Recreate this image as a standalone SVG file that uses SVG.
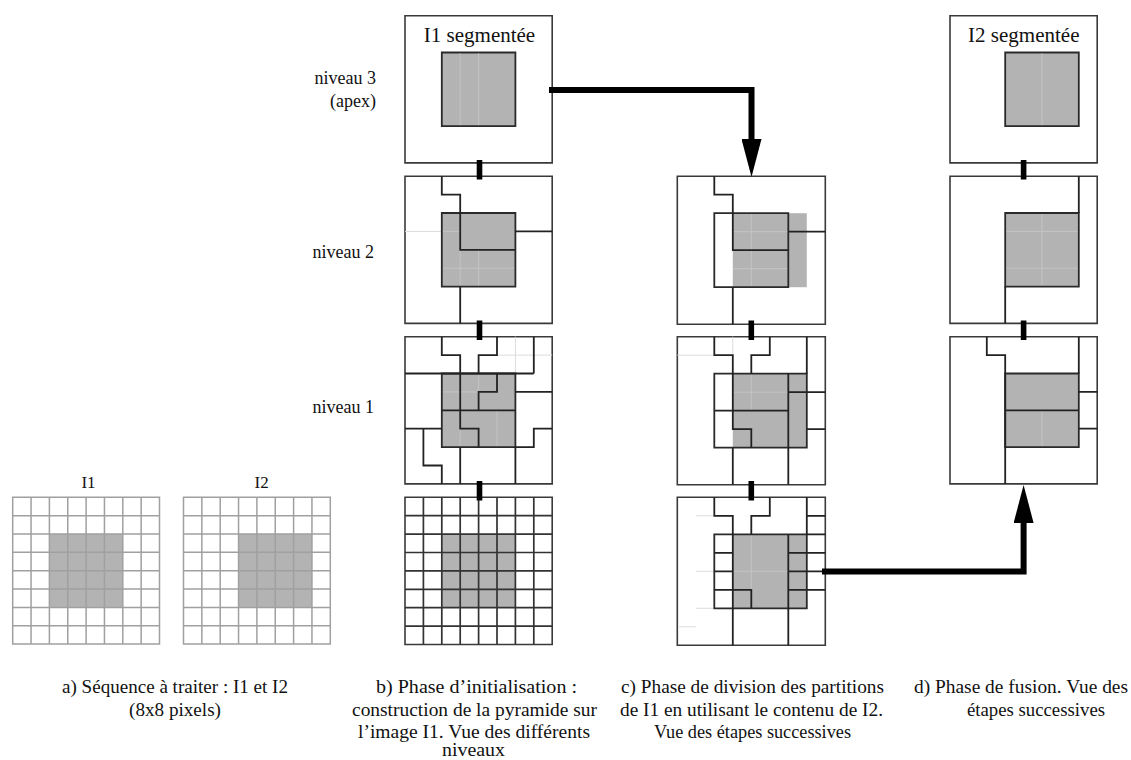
<svg xmlns="http://www.w3.org/2000/svg" width="1131" height="760" viewBox="0 0 1131 760">
<defs>
<style>
path, rect { vector-effect: non-scaling-stroke; }
.box { fill:#fff; stroke:#3a3a3a; stroke-width:1.6; }
.gray { fill:#b3b3b3; stroke:none; }
.gedge { fill:#b3b3b3; stroke:#2a2a2a; stroke-width:1.8; }
.frame { fill:none; stroke:#2a2a2a; stroke-width:1.8; }
.edge { fill:none; stroke:#222; stroke-width:1.8; }
.faint { fill:none; stroke:#dcdcdc; stroke-width:1; }
.faintg { fill:none; stroke:#c4c4c4; stroke-width:1; }
.grid { fill:none; stroke:#a0a0a0; stroke-width:1.5; }
.gridbox { fill:#fff; stroke:#a0a0a0; stroke-width:1.5; }
.grid0 { fill:none; stroke:#333; stroke-width:1.7; }
.bar { fill:#000; }
.conn { fill:none; stroke:#000; stroke-width:6; }
.t { font-family:"Liberation Serif","Times New Roman",serif; fill:#111; }
.lbl { font-size:18px; text-anchor:end; }
.ttl { font-size:21px; text-anchor:middle; }
.cap { font-size:18px; text-anchor:middle; }
</style>
<marker id="ah" viewBox="0 0 38 20" refX="0" refY="10" markerWidth="38" markerHeight="20" markerUnits="userSpaceOnUse" orient="auto">
<path d="M0,0 L38,10 L0,20 Z" fill="#000"/>
</marker>
</defs>

<!-- column a -->
<g id="a-I1" transform="translate(12.7,497.3) scale(18.35)">
<rect class="gridbox" x="0" y="0" width="8" height="8"/>
<rect class="gray" x="2" y="2" width="4" height="4"/>
<path class="grid" d="M1,0V8M2,0V8M3,0V8M4,0V8M5,0V8M6,0V8M7,0V8M0,1H8M0,2H8M0,3H8M0,4H8M0,5H8M0,6H8M0,7H8"/>
</g>
<g id="a-I2" transform="translate(183.5,497.3) scale(18.35)">
<rect class="gridbox" x="0" y="0" width="8" height="8"/>
<rect class="gray" x="3" y="2" width="4" height="4"/>
<path class="grid" d="M1,0V8M2,0V8M3,0V8M4,0V8M5,0V8M6,0V8M7,0V8M0,1H8M0,2H8M0,3H8M0,4H8M0,5H8M0,6H8M0,7H8"/>
</g>
<text class="t" x="88.5" y="487.5" font-size="17" text-anchor="middle">I1</text>
<text class="t" x="261.7" y="487.5" font-size="17" text-anchor="middle">I2</text>

<!-- column b -->
<g id="b-n3" transform="translate(405,15.7) scale(18.4)">
<rect class="box" x="0" y="0" width="8" height="8"/>
<rect class="gedge" x="2" y="2" width="4" height="4"/>
<path class="faintg" d="M3,2.05V5.95M4,2.05V5.95"/>
</g>
<text class="t ttl" x="479.5" y="42">I1 segmentée</text>

<g id="b-n2" transform="translate(405,176.2) scale(18.4)">
<rect class="box" x="0" y="0" width="8" height="8"/>
<rect class="gray" x="2" y="2" width="4" height="4"/>
<path class="faint" d="M0,3H2"/>
<path class="faintg" d="M2,3H3M2,5H6M3,4V6M4,4V6"/>
<rect class="frame" x="2" y="2" width="4" height="4"/>
<path class="edge" d="M2,0V1H3V4H6M6,3H8M3,6V8"/>
</g>

<g id="b-n1" transform="translate(405,336.7) scale(18.4)">
<rect class="box" x="0" y="0" width="8" height="8"/>
<rect class="gray" x="2" y="2" width="4" height="4"/>
<path class="faint" d="M6,0V2M5,1H8"/>
<path class="faintg" d="M2,3H5M4,2V3M3,5V6M5,4V6"/>
<rect class="frame" x="2" y="2" width="4" height="4"/>
<path class="edge" d="M2,0V1H3V2M5,0V1H4V2M0,2H7M7,0V2M6,3H8M3,2V5H4V6M2,4H6M5,2V3H4V4M8,5H7V6H6M6,6V8M3,6V8M0,5H2M1,5V7H2V8"/>
</g>

<g id="b-n0" transform="translate(405,497.3) scale(18.4)">
<rect class="box" x="0" y="0" width="8" height="8"/>
<rect class="gray" x="2" y="2" width="4" height="4"/>
<path class="grid0" d="M1,0V8M2,0V8M3,0V8M4,0V8M5,0V8M6,0V8M7,0V8M0,1H8M0,2H8M0,3H8M0,4H8M0,5H8M0,6H8M0,7H8"/>
</g>

<!-- column c -->
<g id="c-e2" transform="translate(677.3,176.2) scale(18.5)">
<rect class="box" x="0" y="0" width="8" height="8"/>
<rect class="gray" x="3" y="2" width="4" height="4"/>
<path class="faintg" d="M4,2V6M3,3H6M3,5H6"/>
<rect class="frame" x="2" y="2" width="4" height="4"/>
<path class="edge" d="M2,0V1H3V4H6M6,3H8M3,6V8"/>
</g>

<g id="c-e1" transform="translate(677.3,336.7) scale(18.5)">
<rect class="box" x="0" y="0" width="8" height="8"/>
<rect class="gray" x="3" y="2" width="4" height="4"/>
<path class="faint" d="M0,1H2M3,0V1"/>
<path class="faintg" d="M4,2V4M3,3H6"/>
<rect class="frame" x="2" y="2" width="5" height="4"/>
<path class="edge" d="M2,0V1H3V2M5,0V1H4V2M7,0V2M2,4H6M3,2V5H4V6M6,2V6M6,3H8M7,5H8M3,6V8M6,6V8"/>
</g>

<g id="c-e0" transform="translate(677.3,497.3) scale(18.5)">
<rect class="box" x="0" y="0" width="8" height="8"/>
<rect class="gray" x="3" y="2" width="4" height="4"/>
<path class="faint" d="M1,1H2M1,4H2M1,6H2M0.1,7H1"/>
<path class="faintg" d="M4,2V5M3,4H6"/>
<rect class="frame" x="2" y="2" width="5" height="4"/>
<path class="edge" d="M2,0V1H3V2M5,0V1H4V2M7,0V2M7,1H8M7,2H8M7,3H8M7,4H8M7,5H8M2,3H3M2,4H3M2,5H3M3,2V6M6,2V6M6,3H7M6,4H7M6,5H7M3,5H4V6M3,6V8M6,6V8"/>
</g>

<!-- column d -->
<g id="d-f3" transform="translate(950,15.7) scale(18.4)">
<rect class="box" x="0" y="0" width="8" height="8"/>
<rect class="gedge" x="3" y="2" width="4" height="4"/>
<path class="faintg" d="M5,2.05V5.95"/>
</g>
<text class="t ttl" x="1023.8" y="42">I2 segmentée</text>

<g id="d-f2" transform="translate(950,176.2) scale(18.4)">
<rect class="box" x="0" y="0" width="8" height="8"/>
<rect class="gray" x="3" y="2" width="4" height="4"/>
<path class="faintg" d="M5,2V6M3,3H7M3,5H7"/>
<rect class="frame" x="3" y="2" width="4" height="4"/>
<path class="edge" d="M7,0V2M3,6V8"/>
</g>

<g id="d-f1" transform="translate(950,336.7) scale(18.4)">
<rect class="box" x="0" y="0" width="8" height="8"/>
<rect class="gray" x="3" y="2" width="4" height="4"/>
<path class="faintg" d="M5,4V6"/>
<rect class="frame" x="3" y="2" width="4" height="4"/>
<path class="edge" d="M2,0V1H3V8M7,0V2M3,4H7M7,3H8M7,5H8"/>
</g>

<!-- level labels -->
<text class="t lbl" x="376" y="84">niveau 3</text>
<text class="t lbl" x="376" y="107">(apex)</text>
<text class="t lbl" x="374" y="258">niveau 2</text>
<text class="t lbl" x="374" y="413">niveau 1</text>

<!-- connectors -->
<g id="connectors">
<rect class="bar" x="476.7" y="160" width="5.6" height="19.5"/>
<rect class="bar" x="476.7" y="320.5" width="5.6" height="19.5"/>
<rect class="bar" x="476.7" y="481" width="5.6" height="19.5"/>
<rect class="bar" x="748.5" y="320.5" width="5.6" height="19.5"/>
<rect class="bar" x="748.5" y="481" width="5.6" height="19.5"/>
<rect class="bar" x="1020.8" y="160" width="5.6" height="19.5"/>
<rect class="bar" x="1020.8" y="320.5" width="5.6" height="19.5"/>
<path class="conn" d="M549,90H751.5V139" marker-end="url(#ah)"/>
<path class="conn" d="M822,571.5H1023.6V523" marker-end="url(#ah)"/>
</g>

<!-- captions -->
<text class="t cap" x="175" y="693" textLength="226" lengthAdjust="spacingAndGlyphs">a) Séquence à traiter : I1 et I2</text>
<text class="t cap" x="175" y="716" textLength="92" lengthAdjust="spacingAndGlyphs">(8x8 pixels)</text>
<text class="t cap" x="476.5" y="693" textLength="201" lengthAdjust="spacingAndGlyphs">b) Phase d’initialisation :</text>
<text class="t cap" x="474.5" y="716" textLength="245" lengthAdjust="spacingAndGlyphs">construction de la pyramide sur</text>
<text class="t cap" x="474" y="738" textLength="232" lengthAdjust="spacingAndGlyphs">l’image I1. Vue des différents</text>
<text class="t cap" x="473.5" y="756" textLength="63" lengthAdjust="spacingAndGlyphs">niveaux</text>
<text class="t cap" x="752.5" y="693" textLength="263" lengthAdjust="spacingAndGlyphs">c) Phase de division des partitions</text>
<text class="t cap" x="751.5" y="716" textLength="263" lengthAdjust="spacingAndGlyphs">de I1 en utilisant le contenu de I2.</text>
<text class="t cap" x="752.5" y="738" textLength="197" lengthAdjust="spacingAndGlyphs">Vue des étapes successives</text>
<text class="t cap" x="1021" y="693" textLength="214" lengthAdjust="spacingAndGlyphs">d) Phase de fusion. Vue des</text>
<text class="t cap" x="1036" y="716" textLength="138" lengthAdjust="spacingAndGlyphs">étapes successives</text>
</svg>
